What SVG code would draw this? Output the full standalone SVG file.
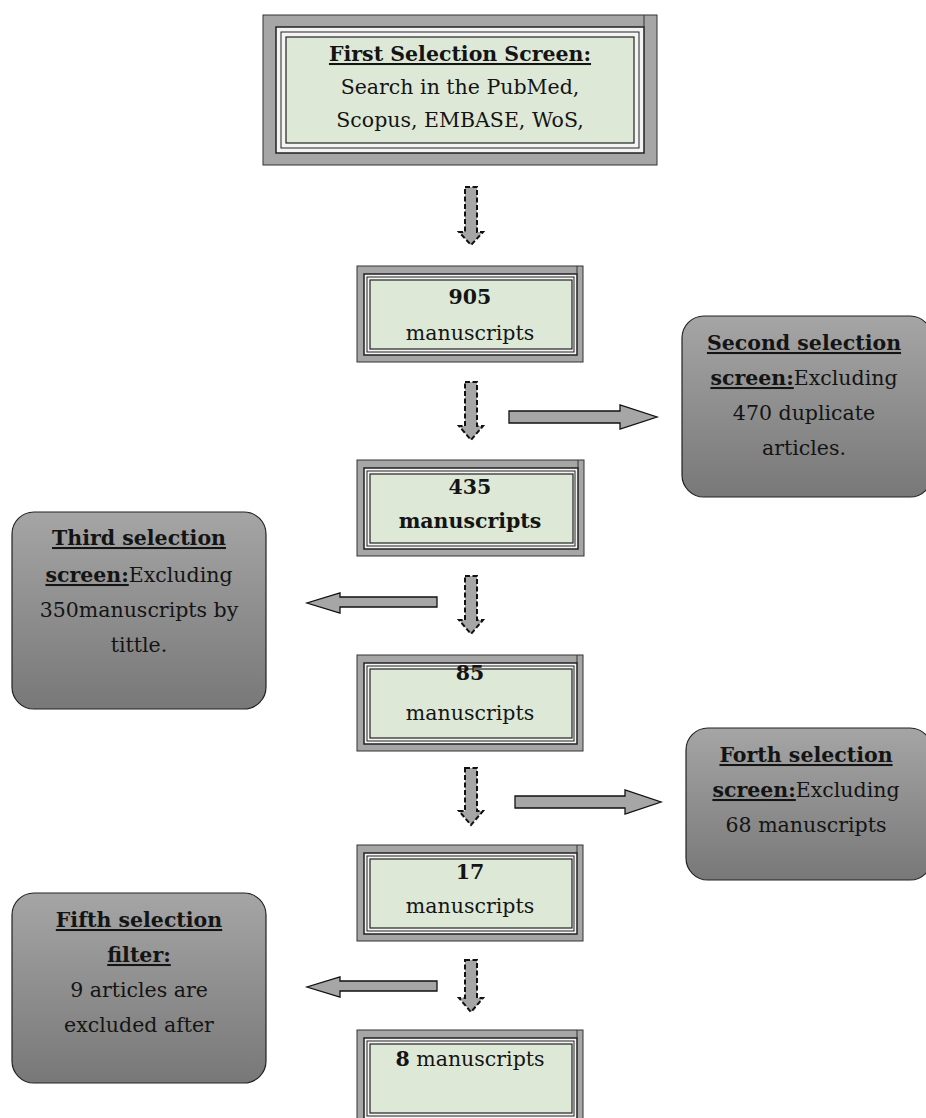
<svg xmlns="http://www.w3.org/2000/svg" width="926" height="1118" viewBox="0 0 926 1118">
<defs>
<linearGradient id="gr" x1="0" y1="0" x2="0" y2="1">
<stop offset="0" stop-color="#a5a5a5"/>
<stop offset="1" stop-color="#787878"/>
</linearGradient>
<style>
text{font-family:"DejaVu Serif","Liberation Serif",serif;font-size:20.5px;fill:#141414;text-anchor:middle}
.b{font-weight:bold}
.u{text-decoration:underline}
.outer{fill:#a6a6a6;stroke:#333;stroke-width:1}
.in1{fill:#f4f4f4;stroke:#222;stroke-width:1.5}
.in2{fill:none;stroke:#222;stroke-width:1}
.green{fill:#dde8d6;stroke:#222;stroke-width:1.2}
.side{fill:url(#gr);stroke:#222;stroke-width:1.2}
.darr{fill:#a6a6a6;stroke:#111;stroke-width:2;stroke-dasharray:5 2.5}
.sarr{fill:#a6a6a6;stroke:#111;stroke-width:1.3}
</style>
</defs>
<rect width="926" height="1118" fill="#fff"/>

<g id="box1">
<rect class="outer" x="263" y="15" width="394" height="150"/>
<rect class="in1" x="276" y="27" width="368" height="126"/>
<rect class="in2" x="281" y="32" width="358" height="116"/>
<rect class="green" x="286" y="37" width="348" height="106"/>
<line x1="644" y1="15" x2="644" y2="27" stroke="#333"/>
<text x="460" y="61" class="b"><tspan class="u">First Selection Screen:</tspan></text>
<text x="460" y="94">Search in the PubMed,</text>
<text x="460" y="127">Scopus, EMBASE, WoS,</text>
</g>

<g id="box905">
<rect class="outer" x="357" y="266" width="226" height="96"/>
<rect class="in1" x="364" y="274" width="213" height="81"/>
<rect class="in2" x="367" y="277" width="207" height="75"/>
<rect class="green" x="370" y="280" width="202" height="69"/>
<line x1="577" y1="266" x2="577" y2="274" stroke="#333"/>
<text x="470" y="304" class="b">905</text>
<text x="470" y="340">manuscripts</text>
</g>

<g id="second">
<rect class="side" x="682" y="316" width="250" height="181" rx="22"/>
<text x="804" y="350" class="b u">Second selection</text>
<text x="804" y="385"><tspan class="b u">screen:</tspan><tspan>Excluding</tspan></text>
<text x="804" y="420">470 duplicate</text>
<text x="804" y="455">articles.</text>
</g>

<g id="box435">
<rect class="outer" x="357" y="460" width="227" height="96"/>
<rect class="in1" x="364" y="468" width="214" height="81"/>
<rect class="in2" x="367" y="471" width="208" height="75"/>
<rect class="green" x="370" y="474" width="203" height="69"/>
<line x1="578" y1="460" x2="578" y2="468" stroke="#333"/>
<text x="470" y="494" class="b">435</text>
<text x="470" y="528" class="b">manuscripts</text>
</g>

<g id="third">
<rect class="side" x="12" y="512" width="254" height="197" rx="22"/>
<text x="139" y="545" class="b u">Third selection</text>
<text x="139" y="582"><tspan class="b u">screen:</tspan><tspan>Excluding</tspan></text>
<text x="139" y="617">350manuscripts by</text>
<text x="139" y="652">tittle.</text>
</g>

<g id="box85">
<rect class="outer" x="357" y="655" width="226" height="96"/>
<rect class="in1" x="364" y="663" width="213" height="81"/>
<rect class="in2" x="367" y="666" width="207" height="75"/>
<rect class="green" x="370" y="669" width="202" height="69"/>
<line x1="577" y1="655" x2="577" y2="663" stroke="#333"/>
<text x="470" y="680" class="b">85</text>
<text x="470" y="720">manuscripts</text>
</g>

<g id="forth">
<rect class="side" x="686" y="728" width="246" height="152" rx="22"/>
<text x="806" y="762" class="b u">Forth selection</text>
<text x="806" y="797"><tspan class="b u">screen:</tspan><tspan>Excluding</tspan></text>
<text x="806" y="832">68 manuscripts</text>
</g>

<g id="box17">
<rect class="outer" x="357" y="845" width="226" height="96"/>
<rect class="in1" x="364" y="853" width="213" height="81"/>
<rect class="in2" x="367" y="856" width="207" height="75"/>
<rect class="green" x="370" y="859" width="202" height="69"/>
<line x1="577" y1="845" x2="577" y2="853" stroke="#333"/>
<text x="470" y="879" class="b">17</text>
<text x="470" y="913">manuscripts</text>
</g>

<g id="fifth">
<rect class="side" x="12" y="893" width="254" height="190" rx="22"/>
<text x="139" y="927" class="b u">Fifth selection</text>
<text x="139" y="962" class="b u">filter:</text>
<text x="139" y="997">9 articles are</text>
<text x="139" y="1032">excluded after</text>
</g>

<g id="box8">
<rect class="outer" x="357" y="1030" width="226" height="96"/>
<rect class="in1" x="364" y="1038" width="213" height="81"/>
<rect class="in2" x="367" y="1041" width="207" height="75"/>
<rect class="green" x="370" y="1044" width="202" height="69"/>
<line x1="577" y1="1030" x2="577" y2="1038" stroke="#333"/>
<text x="470" y="1066"><tspan class="b">8</tspan> manuscripts</text>
</g>

<g id="connectors">
<path class="darr" d="M465,187 H477 V232 H483 L471,245 L459,232 H465 Z"/>
<path class="darr" d="M465,382 H477 V426 H483 L471,440 L459,426 H465 Z"/>
<path class="darr" d="M465,576 H477 V620 H483 L471,634 L459,620 H465 Z"/>
<path class="darr" d="M465,768 H477 V811 H483 L471,825 L459,811 H465 Z"/>
<path class="darr" d="M465,960 H477 V998 H483 L471,1012 L459,998 H465 Z"/>
<path class="sarr" d="M509,411 H620 V405 L657,417 L620,429 V423 H509 Z"/>
<path class="sarr" d="M437,597 H340 V593 L307,603 L340,613 V607 H437 Z"/>
<path class="sarr" d="M515,796 H625 V790 L661,802 L625,814 V808 H515 Z"/>
<path class="sarr" d="M437,981 H340 V977 L307,987 L340,997 V991 H437 Z"/>
</g>
</svg>
